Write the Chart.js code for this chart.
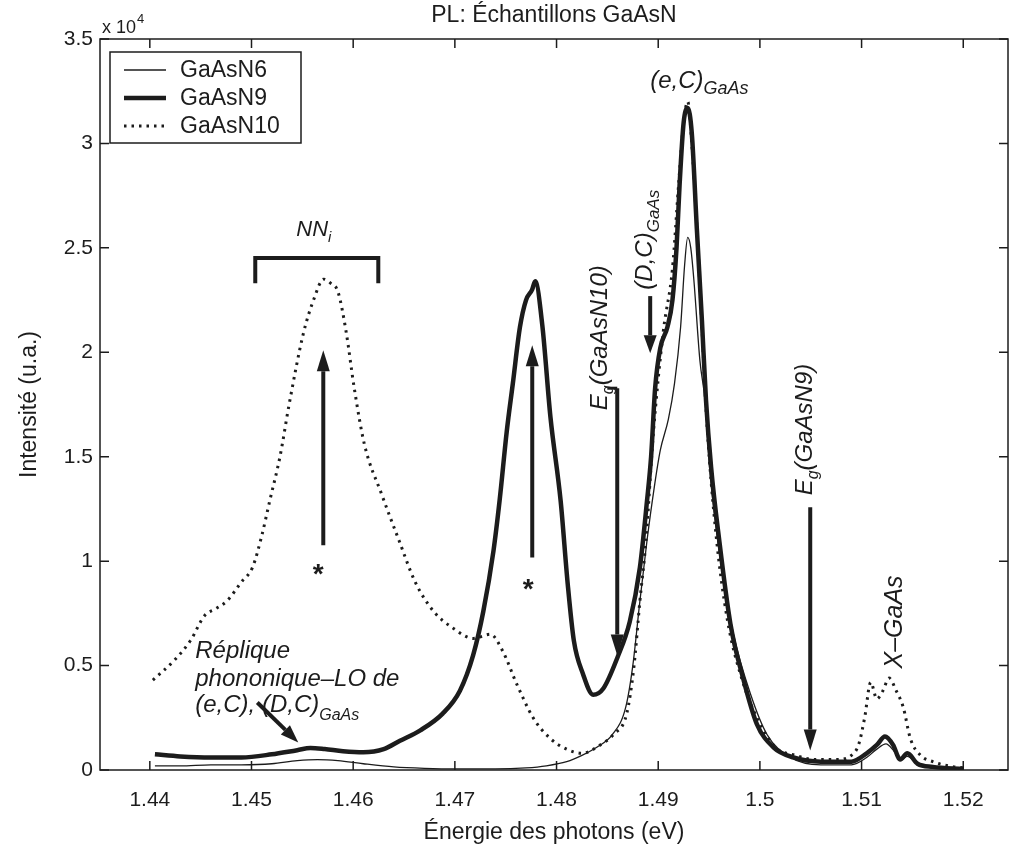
<!DOCTYPE html>
<html>
<head>
<meta charset="utf-8">
<script src="https://cdn.jsdelivr.net/npm/chart.js@4.4.0/dist/chart.umd.min.js"></script>
<style>
  html, body { margin: 0; padding: 0; background: #fff; }
</style>
</head>
<body>
<canvas id="pl" width="1010" height="853"></canvas>
<script>
// PL spectra, intensity in units of 1e4
const seriesNames = ['GaAsN6', 'GaAsN9', 'GaAsN10'];

const n6X = [1.4405,1.4430,1.4460,1.4490,1.4520,1.4545,1.4565,1.4585,1.4610,1.4640,1.4670,1.4700,1.4740,1.4770,1.4790,1.4810,1.4825,1.4840,1.4855,1.4868,1.4875,1.4882,1.4889,1.4896,1.4902,1.4910,1.4916,1.4922,1.4926,1.4929,1.4932,1.4935,1.4941,1.4946,1.4951,1.4961,1.4974,1.4991,1.5007,1.5030,1.5060,1.5090,1.5105,1.5115,1.5124,1.5132,1.5139,1.5145,1.5155,1.5170,1.5200];
const n6Y = [0.02,0.02,0.025,0.025,0.03,0.045,0.05,0.045,0.03,0.015,0.008,0.005,0.005,0.01,0.02,0.04,0.07,0.11,0.17,0.3,0.5,0.81,1.1,1.35,1.53,1.68,1.85,2.12,2.42,2.55,2.5,2.35,1.96,1.77,1.42,1.01,0.65,0.36,0.17,0.06,0.025,0.025,0.06,0.1,0.125,0.09,0.05,0.065,0.03,0.012,0.005];

const n9X = [1.4405,1.4430,1.4460,1.4490,1.4520,1.4545,1.4558,1.4572,1.4590,1.4610,1.4630,1.4646,1.4666,1.4688,1.4705,1.4718,1.4728,1.4738,1.4744,1.4751,1.4757,1.4764,1.4770,1.4776,1.4779,1.4786,1.4794,1.4804,1.4811,1.4817,1.4826,1.4836,1.4846,1.4860,1.4872,1.4882,1.4889,1.4893,1.4897,1.4902,1.4909,1.4914,1.4918,1.4921,1.4925,1.4929,1.4933,1.4938,1.4943,1.4947,1.4952,1.4960,1.4971,1.4984,1.4997,1.5013,1.5033,1.5060,1.5090,1.5105,1.5115,1.5123,1.5131,1.5138,1.5145,1.5155,1.5170,1.5200];
const n9Y = [0.075,0.065,0.06,0.06,0.075,0.095,0.105,0.1,0.09,0.085,0.1,0.14,0.19,0.27,0.38,0.55,0.76,1.05,1.29,1.62,1.85,2.12,2.25,2.3,2.34,2.13,1.69,1.29,0.89,0.62,0.46,0.36,0.39,0.54,0.71,0.97,1.29,1.5,1.83,2.02,2.12,2.25,2.5,2.8,3.1,3.17,3.05,2.59,2.15,1.77,1.45,1.1,0.7,0.43,0.22,0.11,0.06,0.04,0.04,0.08,0.12,0.16,0.12,0.05,0.08,0.03,0.015,0.005];

const n10X = [1.4403,1.4425,1.4440,1.4454,1.4464,1.4476,1.4490,1.4501,1.4510,1.4518,1.4528,1.4537,1.4551,1.4561,1.4571,1.4578,1.4585,1.4593,1.4601,1.4611,1.4628,1.4645,1.4661,1.4679,1.4698,1.4718,1.4735,1.4747,1.4761,1.4777,1.4794,1.4810,1.4825,1.4843,1.4856,1.4869,1.4876,1.4882,1.4888,1.4895,1.4905,1.4914,1.4920,1.4925,1.4929,1.4933,1.4938,1.4943,1.4948,1.4957,1.4968,1.4982,1.4998,1.5015,1.5035,1.5055,1.5075,1.5090,1.5097,1.5103,1.5109,1.5115,1.5121,1.5127,1.5134,1.5141,1.5148,1.5158,1.5170,1.5185,1.5200];
const n10Y = [0.43,0.53,0.62,0.74,0.77,0.81,0.9,0.97,1.12,1.29,1.5,1.75,2.09,2.25,2.35,2.33,2.29,2.1,1.83,1.56,1.32,1.10,0.90,0.76,0.68,0.63,0.65,0.57,0.41,0.25,0.15,0.1,0.08,0.12,0.17,0.27,0.49,0.81,1.1,1.6,2.1,2.4,2.8,3.1,3.2,3.0,2.6,2.12,1.65,1.12,0.72,0.44,0.24,0.11,0.07,0.05,0.05,0.07,0.12,0.25,0.42,0.34,0.38,0.44,0.38,0.3,0.15,0.07,0.04,0.02,0.01];

const xTickValues = [1.44, 1.45, 1.46, 1.47, 1.48, 1.49, 1.50, 1.51, 1.52];
const yTickValues = [0, 0.5, 1, 1.5, 2, 2.5, 3, 3.5];

const ink = '#1c1c1c';
const FONT = "'Liberation Sans', Arial, Helvetica, sans-serif";

function pts(xs, ys) {
  const n = Math.min(xs.length, ys.length);
  const out = [];
  for (let i = 0; i < n; i++) out.push({ x: xs[i], y: ys[i] });
  return out;
}

function arrow(ctx, x1, y1, x2, y2, w = 4, hl = 21, hw = 13) {
  const ang = Math.atan2(y2 - y1, x2 - x1);
  const bx = x2 - hl * Math.cos(ang), by = y2 - hl * Math.sin(ang);
  ctx.lineWidth = w;
  ctx.lineCap = 'butt';
  ctx.beginPath(); ctx.moveTo(x1, y1); ctx.lineTo(bx, by); ctx.stroke();
  ctx.beginPath();
  ctx.moveTo(x2, y2);
  ctx.lineTo(bx + hw / 2 * Math.sin(ang), by - hw / 2 * Math.cos(ang));
  ctx.lineTo(bx - hw / 2 * Math.sin(ang), by + hw / 2 * Math.cos(ang));
  ctx.closePath(); ctx.fill();
}

// text made of runs: [text, size, baseline shift]
function runs(ctx, parts, x, y, style = 'italic') {
  let cx = x;
  ctx.textAlign = 'left';
  ctx.textBaseline = 'alphabetic';
  parts.forEach(([t, size, dy]) => {
    ctx.font = `${style} ${size}px ${FONT}`;
    ctx.fillText(t, cx, y + dy);
    cx += ctx.measureText(t).width;
  });
}
function upRuns(ctx, parts, x, y) {
  ctx.save();
  ctx.translate(x, y);
  ctx.rotate(-Math.PI / 2);
  runs(ctx, parts, 0, 0);
  ctx.restore();
}

const boxPlugin = {
  id: 'matlabBox',
  afterDatasetsDraw(chart) {
    const { ctx, chartArea: a, scales: { x, y } } = chart;
    ctx.save();
    ctx.strokeStyle = ink;
    ctx.lineWidth = 1.5;
    ctx.strokeRect(a.left, a.top, a.right - a.left, a.bottom - a.top);
    const tl = 9;
    ctx.beginPath();
    xTickValues.forEach(v => {
      const p = x.getPixelForValue(v);
      ctx.moveTo(p, a.bottom); ctx.lineTo(p, a.bottom - tl);
      ctx.moveTo(p, a.top); ctx.lineTo(p, a.top + tl);
    });
    yTickValues.forEach(v => {
      const p = y.getPixelForValue(v);
      ctx.moveTo(a.left, p); ctx.lineTo(a.left + tl, p);
      ctx.moveTo(a.right, p); ctx.lineTo(a.right - tl, p);
    });
    ctx.stroke();
    ctx.restore();
  }
};

const notesPlugin = {
  id: 'notes',
  afterDatasetsDraw(chart) {
    const { ctx, scales: { x, y } } = chart;
    const X = v => x.getPixelForValue(v), Y = v => y.getPixelForValue(v);
    ctx.save();
    ctx.fillStyle = ink;
    ctx.strokeStyle = ink;

    // NN_i bracket
    runs(ctx, [['NN', 22, 0], ['i', 15, 6]], X(1.4544), Y(2.556));
    ctx.lineWidth = 4;
    ctx.lineJoin = 'miter';
    ctx.beginPath();
    ctx.moveTo(X(1.45037), Y(2.331));
    ctx.lineTo(X(1.45037), Y(2.451));
    ctx.lineTo(X(1.46247), Y(2.451));
    ctx.lineTo(X(1.46247), Y(2.331));
    ctx.stroke();

    // growth arrows with stars
    arrow(ctx, X(1.45706), Y(1.076), X(1.45706), Y(2.01));
    arrow(ctx, X(1.47761), Y(1.018), X(1.47761), Y(2.034));
    ctx.font = `bold 28px ${FONT}`;
    ctx.textAlign = 'center';
    ctx.textBaseline = 'alphabetic';
    ctx.fillText('*', X(1.45657), Y(0.946) + 11);
    ctx.fillText('*', X(1.47722), Y(0.874) + 11);

    // Eg(GaAsN10)
    upRuns(ctx, [['E', 24, 0], ['g', 16, 6], ['(GaAsN10)', 24, 0]], X(1.48499), Y(1.7226));
    ctx.lineWidth = 3;
    ctx.beginPath();
    ctx.moveTo(X(1.48499), Y(1.828)); ctx.lineTo(X(1.48597), Y(1.828));
    ctx.stroke();
    arrow(ctx, X(1.48597), Y(1.828), X(1.48597), Y(0.548));

    // (D,C)GaAs
    upRuns(ctx, [['(D,C)', 24, 0], ['GaAs', 17, 7]], X(1.48941), Y(2.30));
    arrow(ctx, X(1.48921), Y(2.269), X(1.48921), Y(1.995), 4, 18, 13);

    // (e,C)GaAs
    runs(ctx, [['(e,C)', 24, 0], ['GaAs', 18, 6]], X(1.48921), Y(3.265));

    // Eg(GaAsN9)
    upRuns(ctx, [['E', 24, 0], ['g', 16, 6], ['(GaAsN9)', 24, 0]], X(1.50514), Y(1.315));
    arrow(ctx, X(1.50495), Y(1.258), X(1.50495), Y(0.0934));

    // X-GaAs
    upRuns(ctx, [['X\u2013GaAs', 25, 0]], X(1.5140), Y(0.486));

    // LO phonon replica
    runs(ctx, [['Réplique', 24, 0]], X(1.44447), Y(0.534));
    runs(ctx, [['phononique\u2013LO de', 24, 0]], X(1.44447), Y(0.400));
    runs(ctx, [['(e,C), (D,C)', 24, 0], ['GaAs', 16, 8]], X(1.44447), Y(0.280));
    arrow(ctx, X(1.45057), Y(0.3234), X(1.4546), Y(0.1318), 4, 18, 13);

    ctx.restore();
  }
};

const framePlugin = {
  id: 'frame',
  afterDraw(chart) {
    const { ctx, chartArea: a } = chart;
    ctx.save();
    ctx.fillStyle = ink;
    ctx.strokeStyle = ink;
    // title
    ctx.font = `23px ${FONT}`;
    ctx.textAlign = 'center';
    ctx.textBaseline = 'middle';
    ctx.fillText('PL: Échantillons GaAsN', (a.left + a.right) / 2, 16);
    // exponent
    ctx.textAlign = 'left';
    ctx.textBaseline = 'alphabetic';
    ctx.font = `18px ${FONT}`;
    ctx.fillText('x 10', a.left + 2, 33);
    const w = ctx.measureText('x 10').width;
    ctx.font = `13px ${FONT}`;
    ctx.fillText('4', a.left + 3 + w, 23);

    // legend
    const bx = a.left + 10, by = a.top + 13, bw = 191, bh = 91;
    ctx.fillStyle = '#fff';
    ctx.fillRect(bx, by, bw, bh);
    ctx.lineWidth = 1.5;
    ctx.strokeRect(bx, by, bw, bh);
    ctx.fillStyle = ink;
    ctx.font = `23px ${FONT}`;
    ctx.textBaseline = 'middle';
    chart.data.datasets.forEach((ds, i) => {
      const ry = by + 18 + i * 28;
      ctx.lineWidth = ds.borderWidth;
      ctx.setLineDash(ds.borderDash || []);
      ctx.beginPath();
      ctx.moveTo(bx + 14, ry); ctx.lineTo(bx + 56, ry);
      ctx.stroke();
      ctx.setLineDash([]);
      ctx.fillText(ds.label, bx + 70, ry + 1);
    });
    ctx.restore();
  }
};

Chart.defaults.font.family = FONT;
Chart.defaults.color = ink;

new Chart(document.getElementById('pl'), {
  type: 'line',
  data: {
    datasets: [
      { label: seriesNames[0], data: pts(n6X, n6Y), borderColor: ink, borderWidth: 1.3, order: 1 },
      { label: seriesNames[1], data: pts(n9X, n9Y), borderColor: ink, borderWidth: 4.5, order: 2 },
      { label: seriesNames[2], data: pts(n10X, n10Y), borderColor: ink, borderWidth: 3, borderDash: [2.5, 5], order: 0 }
    ]
  },
  options: {
    responsive: false,
    animation: false,
    devicePixelRatio: 1,
    layout: { padding: { top: 39, right: 2, left: 0, bottom: 0 } },
    elements: {
      point: { radius: 0 },
      line: { cubicInterpolationMode: 'monotone', fill: false }
    },
    plugins: { legend: { display: false }, tooltip: { enabled: false } },
    scales: {
      x: {
        type: 'linear',
        min: 1.4351,
        max: 1.5244,
        grid: { display: false, drawTicks: false },
        border: { display: false },
        afterBuildTicks: s => { s.ticks = xTickValues.map(v => ({ value: v })); },
        afterFit: s => { s.height = 83; },
        ticks: { padding: 18, color: ink, font: { size: 21 }, maxRotation: 0, autoSkip: false,
                 callback: v => String(+Number(v).toFixed(3)) },
        title: { display: true, text: 'Énergie des photons (eV)', color: ink,
                 font: { size: 23 }, padding: { top: 0, bottom: 7 } }
      },
      y: {
        min: 0,
        max: 3.5,
        grid: { display: false, drawTicks: false },
        border: { display: false },
        afterBuildTicks: s => { s.ticks = yTickValues.map(v => ({ value: v })); },
        afterFit: s => { s.width = 100; },
        ticks: { padding: 7, color: ink, font: { size: 21 }, callback: v => String(v) },
        title: { display: true, text: 'Intensité (u.a.)', color: ink,
                 font: { size: 23 }, padding: { top: 16, bottom: 0 } }
      }
    }
  },
  plugins: [boxPlugin, notesPlugin, framePlugin]
});
</script>
</body>
</html>
